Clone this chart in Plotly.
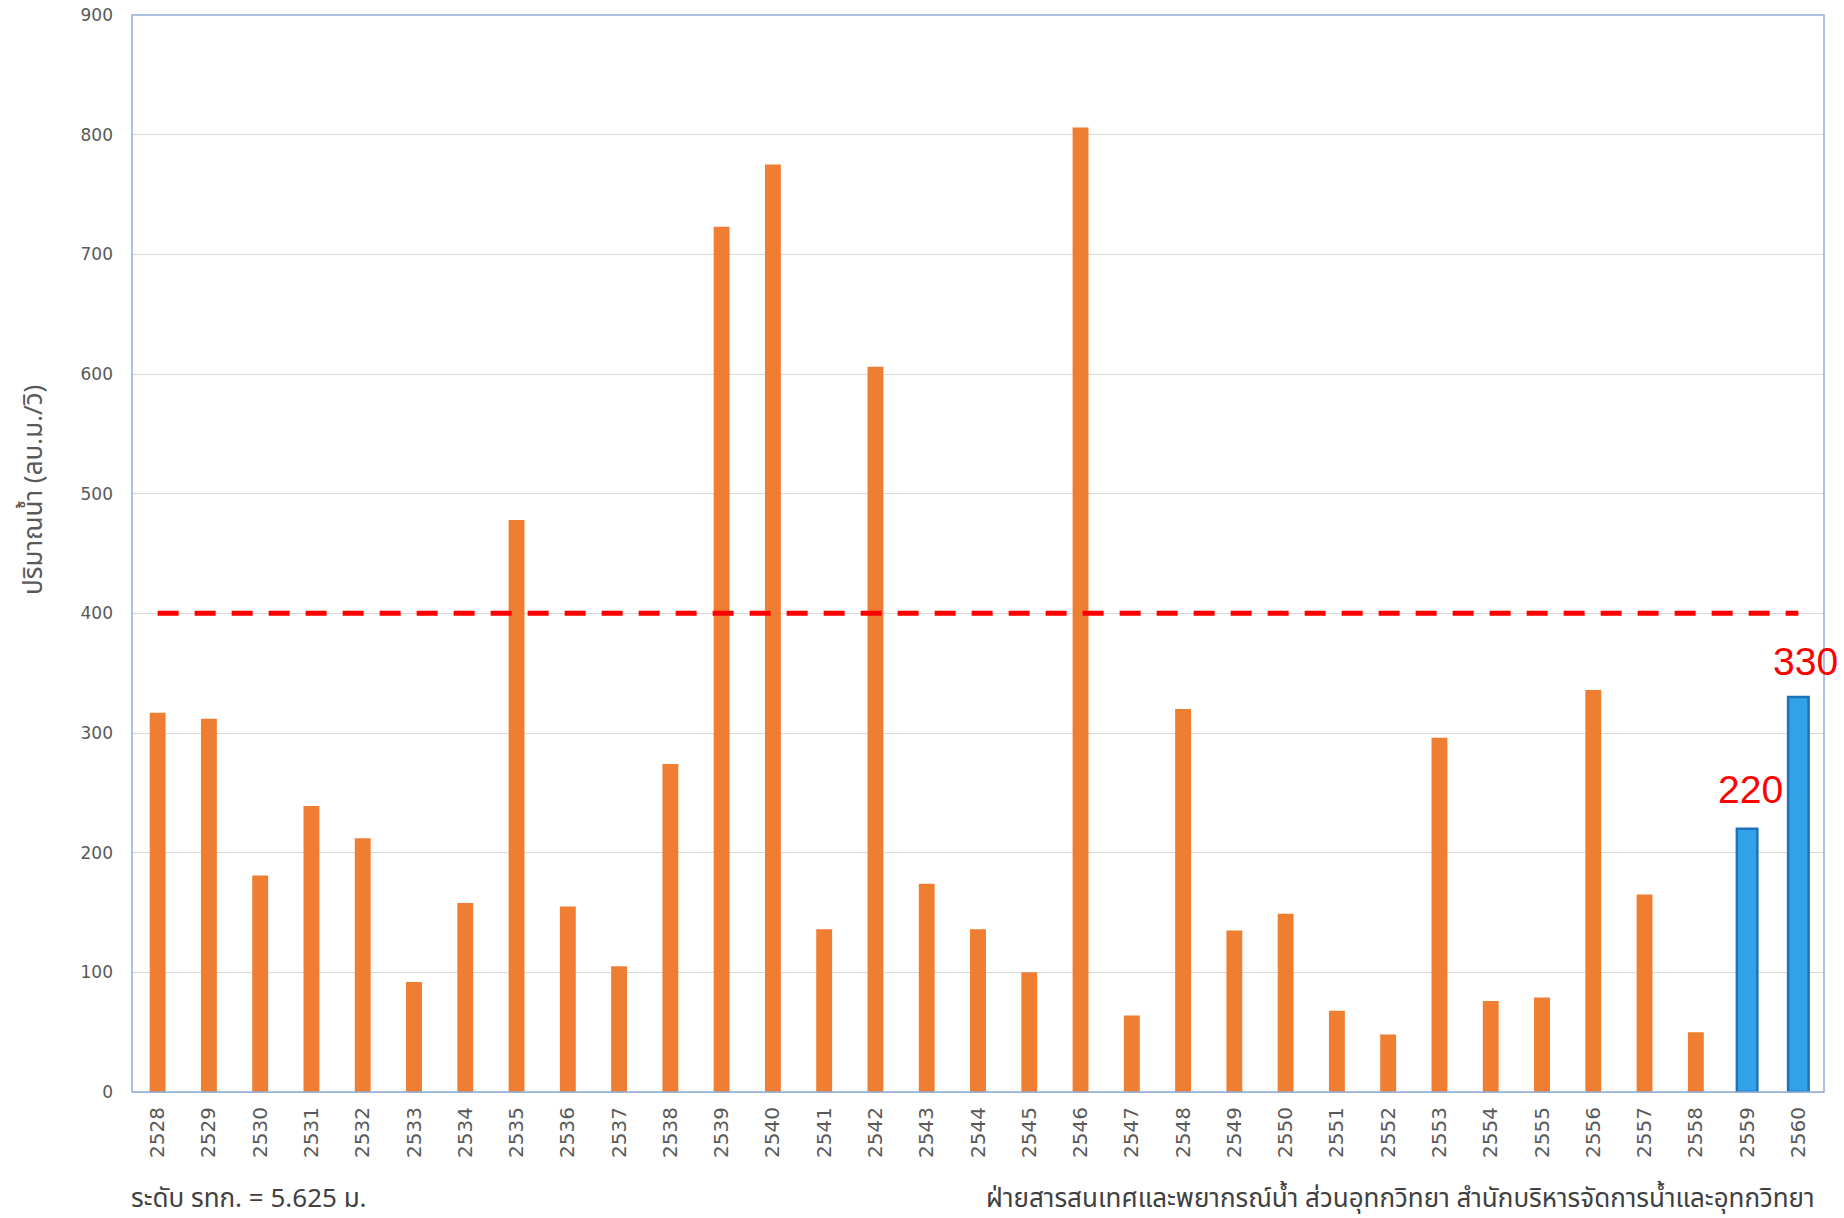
import plotly.graph_objects as go

# Annual peak discharge by Buddhist-era year
years_hist = [str(y) for y in range(2528, 2559)]
flow_hist = [317, 312, 181, 239, 212, 92, 158, 478, 155, 105, 274,
             723, 775, 136, 606, 174, 136, 100, 806, 64, 320, 135,
             149, 68, 48, 296, 76, 79, 336, 165, 50]

years_recent = ["2559", "2560"]
flow_recent = [220, 330]

all_years = years_hist + years_recent
critical_level = 400

y_title = "ปริมาณน้ำ (ลบ.ม./วิ)"
note_left = "ระดับ รทก. = 5.625 ม."
note_right = "ฝ่ายสารสนเทศและพยากรณ์น้ำ ส่วนอุทกวิทยา สำนักบริหารจัดการน้ำและอุทกวิทยา"

TICK_GRAY = "#595959"
THAI_FONT = "Noto Sans Thai, Tahoma, DejaVu Sans, sans-serif"

fig = go.Figure()

fig.add_trace(go.Bar(
    x=years_hist, y=flow_hist, width=0.31,
    marker=dict(color="#EF7E32", line=dict(width=0)),
    showlegend=False, hoverinfo="x+y",
))

fig.add_trace(go.Bar(
    x=years_recent, y=flow_recent, width=0.40,
    marker=dict(color="#31A2EA", line=dict(color="#1E73B8", width=2.5)),
    showlegend=False, hoverinfo="x+y",
))

fig.add_trace(go.Scatter(
    x=all_years, y=[critical_level] * len(all_years), mode="lines",
    line=dict(color="#FF0000", width=5, dash="21px,16px"),
    showlegend=False, hoverinfo="skip",
))

# value labels above the recent-year bars (category axis -> use index positions)
label_shift = {"2559": (3, 16), "2560": (7, 12)}
for yr, v in zip(years_recent, flow_recent):
    dx, dy = label_shift[yr]
    fig.add_annotation(
        x=all_years.index(yr), y=v, xref="x", yref="y", text=f"{v:g}", showarrow=False,
        xanchor="center", yanchor="bottom", xshift=dx, yshift=dy,
        font=dict(family="Liberation Sans, Arial, sans-serif", size=39, color="#FF0000"),
    )

# rotated y-axis title
fig.add_annotation(
    x=0, y=0.559, xref="paper", yref="paper", text=y_title, showarrow=False,
    textangle=-90, xanchor="center", yanchor="middle", xshift=-98,
    font=dict(family=THAI_FONT, size=26, color=TICK_GRAY),
)

# footer notes
fig.add_annotation(
    x=0, y=0, xref="paper", yref="paper", text=note_left, showarrow=False,
    xanchor="left", yanchor="middle", xshift=-3, yshift=-107,
    font=dict(family=THAI_FONT, size=26, color="#404040"),
)
fig.add_annotation(
    x=1, y=0, xref="paper", yref="paper", text=note_right, showarrow=False,
    xanchor="right", yanchor="middle", xshift=-7, yshift=-107,
    font=dict(family=THAI_FONT, size=26, color="#404040"),
)

# plot-area border
fig.add_shape(
    type="rect", xref="paper", yref="paper", x0=0, y0=0, x1=1, y1=1,
    line=dict(color="#8FAFD6", width=1.5), fillcolor="rgba(0,0,0,0)", layer="above",
)

fig.update_layout(
    width=1844, height=1218,
    margin=dict(l=132, r=20, t=15, b=126),
    paper_bgcolor="white", plot_bgcolor="white",
    barmode="overlay",
    xaxis=dict(
        type="category", categoryorder="array", categoryarray=all_years,
        range=[-0.5, len(all_years) - 0.5], automargin=False,
        tickangle=-90, showgrid=False, showline=False, zeroline=False,
        ticks="", ticklabelstandoff=10,
        tickfont=dict(family="DejaVu Sans, sans-serif", size=20, color=TICK_GRAY),
    ),
    yaxis=dict(
        range=[0, 900], dtick=100, tick0=0, automargin=False,
        showgrid=True, gridcolor="#D9D9D9", gridwidth=1,
        zeroline=True, zerolinecolor="#C8C8C8", zerolinewidth=1,
        showline=False, ticks="", ticklabelstandoff=18,
        tickfont=dict(family="DejaVu Sans, sans-serif", size=17, color=TICK_GRAY),
    ),
)

fig.write_html("out.html")
